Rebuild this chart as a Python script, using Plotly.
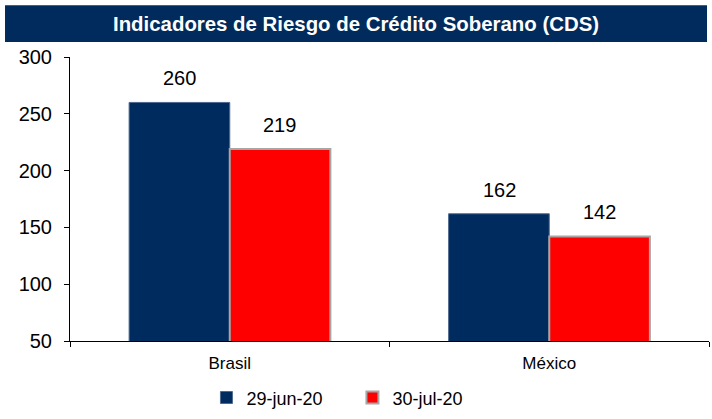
import plotly.graph_objects as go

categories = ["Brasil", "México"]
series_names = ["29-jun-20", "30-jul-20"]
values_jun = [260, 162]
values_jul = [219, 142]
y_ticks = [50, 100, 150, 200, 250, 300]
title_text = "Indicadores de Riesgo de Crédito Soberano (CDS)"

navy = "#002B5F"
red = "#FF0000"
font_family = "Liberation Sans, Arial, sans-serif"

fig = go.Figure()
fig.add_trace(go.Bar(
    x=categories, y=values_jun, name=series_names[0],
    marker=dict(color=navy, line=dict(color="#4F6A8F", width=1)),
))
fig.add_trace(go.Bar(
    x=categories, y=values_jul, name=series_names[1],
    marker=dict(color=red, line=dict(color="#A6A6A6", width=2)),
))

annotations = []
for vals, shift in [(values_jun, -50), (values_jul, 50)]:
    for c, v in zip(categories, vals):
        annotations.append(dict(
            x=c, y=v, xref="x", yref="y", text=str(v), showarrow=False,
            xshift=shift, yshift=11, yanchor="bottom",
            font=dict(size=20, color="#000000", family=font_family),
        ))
annotations.append(dict(
    x=0.4476, y=1.117, xref="paper", yref="paper", text="<b>" + title_text + "</b>",
    showarrow=False, xanchor="center", yanchor="middle",
    font=dict(size=20.4, color="#FFFFFF", family=font_family),
))

fig.update_layout(
    width=712, height=419,
    margin=dict(l=70, r=3, t=57, b=76),
    paper_bgcolor="white", plot_bgcolor="white",
    barmode="group", bargap=0.37, bargroupgap=0,
    font=dict(family=font_family, color="#000000"),
    showlegend=True,
    legend=dict(orientation="h", x=0.442, xanchor="center", y=-0.2, yanchor="middle",
                font=dict(size=18, family=font_family), itemwidth=30,
                entrywidth=101, traceorder="normal"),
    annotations=annotations,
    shapes=[dict(type="rect", xref="paper", yref="paper",
                 x0=-0.1017, x1=0.9969, y0=1.0524, y1=1.1818,
                 fillcolor="#002B5C", line=dict(width=0), layer="below")],
)
fig.update_xaxes(
    showline=True, linecolor="#000000", linewidth=1,
    ticks="outside", tickson="boundaries", ticklen=5, tickcolor="#000000",
    tickfont=dict(size=17, family=font_family), ticklabelstandoff=7,
    showgrid=False,
)
fig.update_yaxes(
    range=[50, 300], tickvals=y_ticks,
    showline=True, linecolor="#000000", linewidth=1,
    ticks="outside", ticklen=5, tickcolor="#000000",
    tickfont=dict(size=20, family=font_family), ticklabelstandoff=8,
    showgrid=False, zeroline=False,
)

fig.write_html("out.html")
